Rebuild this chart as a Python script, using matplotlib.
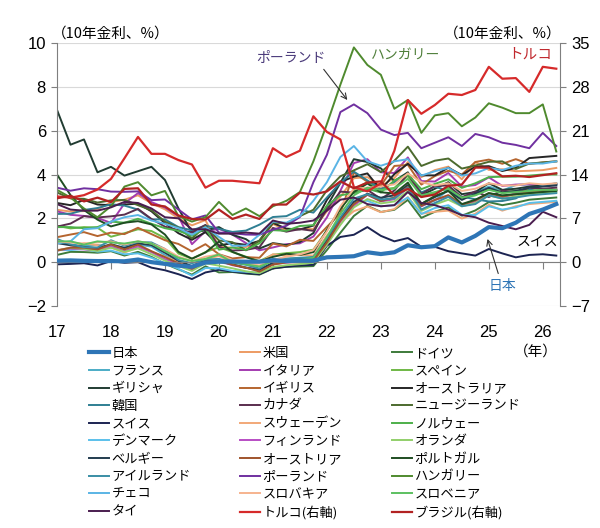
import numpy as np
import matplotlib
matplotlib.use("Agg")
import matplotlib.pyplot as plt

JP_FONT = ['Noto Sans CJK JP', 'DejaVu Sans']
NUM_FONT = ['Liberation Sans', 'DejaVu Sans']
plt.rcParams['font.family'] = JP_FONT

# quarterly 10y yields, Q1 2017 .. Q2 2026 (left axis, %)
years = [17, 18, 19, 20, 21, 22, 23, 24, 25, 26]
jp = [0.07, 0.08, 0.06, 0.05, 0.05, 0.04, 0.12, 0.00, -0.08, -0.16, -0.21, -0.02,
      0.02, 0.03, 0.02, 0.02, 0.09, 0.05, 0.07, 0.07, 0.22, 0.24, 0.27, 0.45,
      0.37, 0.45, 0.77, 0.68, 0.73, 1.13, 0.90, 1.20, 1.60, 1.55, 1.80, 2.20, 2.40, 2.65]
us = [2.39, 2.31, 2.33, 2.40, 2.74, 2.85, 3.05, 2.69, 2.41, 2.00, 1.68, 1.92,
      0.70, 0.66, 0.69, 0.92, 1.74, 1.45, 1.52, 1.51, 2.32, 2.98, 3.83, 3.88,
      3.48, 3.84, 4.57, 3.88, 4.20, 4.36, 3.78, 4.57, 4.21, 4.24, 4.15, 4.17, 4.20, 4.30]
de = [0.33, 0.47, 0.46, 0.43, 0.50, 0.30, 0.47, 0.24, -0.07, -0.33, -0.57, -0.19,
      -0.47, -0.45, -0.52, -0.57, -0.29, -0.21, -0.20, -0.18, 0.55, 1.34, 2.11, 2.57,
      2.29, 2.39, 2.84, 2.02, 2.30, 2.50, 2.12, 2.36, 2.74, 2.60, 2.71, 2.85, 2.90, 2.95]
fr = [0.97, 0.81, 0.74, 0.78, 0.72, 0.66, 0.80, 0.71, 0.32, -0.01, -0.28, 0.12,
      0.00, -0.11, -0.24, -0.34, -0.05, 0.13, 0.16, 0.20, 0.98, 1.92, 2.72, 3.11,
      2.79, 2.93, 3.40, 2.56, 2.81, 3.30, 2.92, 3.19, 3.45, 3.26, 3.52, 3.55, 3.50, 3.55]
it = [2.32, 2.16, 2.11, 2.02, 1.79, 2.68, 3.15, 2.74, 2.49, 2.10, 0.82, 1.41,
      1.52, 1.26, 0.87, 0.54, 0.67, 0.82, 0.86, 1.17, 2.04, 3.26, 4.52, 4.70,
      4.10, 4.07, 4.78, 3.70, 3.68, 4.07, 3.45, 3.52, 3.87, 3.48, 3.54, 3.55, 3.50, 3.55]
es = [1.66, 1.54, 1.60, 1.57, 1.16, 1.32, 1.50, 1.42, 1.10, 0.39, 0.15, 0.46,
      0.68, 0.46, 0.25, 0.05, 0.34, 0.41, 0.46, 0.57, 1.44, 2.42, 3.29, 3.66,
      3.31, 3.39, 3.94, 2.99, 3.16, 3.42, 2.93, 3.06, 3.37, 3.20, 3.26, 3.30, 3.25, 3.30]
gr = [6.95, 5.36, 5.60, 4.10, 4.35, 3.95, 4.15, 4.35, 3.75, 2.45, 1.35, 1.45,
      1.60, 1.25, 1.05, 0.62, 0.87, 0.78, 0.92, 1.33, 2.55, 3.62, 4.70, 4.57,
      4.28, 3.70, 4.10, 3.05, 3.35, 3.65, 3.10, 3.20, 3.60, 3.30, 3.35, 3.45, 3.50, 3.55]
gb = [1.14, 1.26, 1.37, 1.19, 1.35, 1.28, 1.57, 1.28, 1.00, 0.83, 0.49, 0.82,
      0.36, 0.17, 0.23, 0.20, 0.85, 0.72, 1.02, 0.97, 1.61, 2.23, 4.09, 3.67,
      3.49, 4.39, 4.44, 3.54, 3.93, 4.17, 4.00, 4.57, 4.68, 4.49, 4.70, 4.48, 4.55, 4.60]
au = [2.70, 2.60, 2.84, 2.63, 2.60, 2.63, 2.67, 2.32, 1.78, 1.32, 1.02, 1.37,
      0.76, 0.87, 0.79, 0.97, 1.79, 1.53, 1.49, 1.67, 2.84, 3.66, 3.90, 4.05,
      3.30, 4.02, 4.49, 3.96, 3.96, 4.31, 3.97, 4.36, 4.38, 4.16, 4.30, 4.75, 4.80, 4.85]
kr = [2.20, 2.21, 2.38, 2.47, 2.64, 2.58, 2.40, 1.95, 1.95, 1.60, 1.45, 1.67,
      1.52, 1.38, 1.44, 1.71, 2.06, 2.10, 2.39, 2.26, 2.95, 3.62, 4.13, 3.73,
      3.34, 3.64, 4.02, 3.18, 3.44, 3.26, 2.99, 2.87, 2.77, 2.79, 2.91, 3.30, 3.50, 3.60]
ca = [1.62, 1.76, 2.10, 2.04, 2.09, 2.17, 2.43, 1.97, 1.62, 1.46, 1.36, 1.70,
      0.70, 0.53, 0.56, 0.68, 1.56, 1.39, 1.51, 1.43, 2.41, 3.22, 3.17, 3.30,
      2.89, 3.27, 4.03, 3.10, 3.48, 3.50, 2.96, 3.23, 2.97, 3.27, 3.18, 3.40, 3.35, 3.40]
nz = [3.18, 2.91, 2.89, 2.72, 2.82, 2.84, 2.60, 2.37, 1.85, 1.57, 1.08, 1.65,
      0.99, 0.91, 0.54, 0.99, 1.81, 1.77, 2.10, 2.39, 3.28, 3.92, 4.19, 4.47,
      4.11, 4.63, 5.27, 4.39, 4.63, 4.73, 4.27, 4.41, 4.58, 4.60, 4.25, 4.50, 4.55, 4.60]
ch = [-0.10, -0.08, -0.05, -0.15, 0.05, -0.03, 0.00, -0.25, -0.37, -0.55, -0.77, -0.47,
      -0.35, -0.43, -0.50, -0.55, -0.28, -0.21, -0.15, -0.12, 0.75, 1.15, 1.25, 1.60,
      1.20, 0.95, 1.10, 0.70, 0.70, 0.50, 0.40, 0.30, 0.60, 0.40, 0.22, 0.33, 0.36, 0.30]
se = [0.55, 0.65, 0.86, 0.77, 0.67, 0.44, 0.67, 0.47, 0.25, 0.02, -0.22, 0.14,
      0.28, 0.00, -0.03, -0.02, 0.36, 0.30, 0.34, 0.30, 1.22, 1.82, 2.33, 2.54,
      2.28, 2.42, 2.97, 2.21, 2.30, 2.35, 1.99, 2.21, 2.62, 2.35, 2.55, 2.65, 2.70, 2.75]
no = [1.60, 1.60, 1.55, 1.60, 1.85, 1.80, 1.98, 1.75, 1.55, 1.43, 1.20, 1.54,
      0.57, 0.67, 0.56, 0.86, 1.46, 1.43, 1.65, 1.69, 2.58, 3.05, 3.16, 3.35,
      3.18, 3.73, 4.00, 3.33, 3.57, 3.78, 3.39, 3.60, 3.88, 3.90, 3.90, 3.95, 4.00, 4.00]
dk = [0.55, 0.55, 0.60, 0.48, 0.53, 0.36, 0.40, 0.20, -0.05, -0.30, -0.62, -0.27,
      -0.28, -0.40, -0.44, -0.49, -0.05, 0.00, 0.02, 0.04, 0.88, 1.90, 2.75, 2.80,
      2.55, 2.60, 2.95, 2.20, 2.47, 2.60, 2.16, 2.15, 2.55, 2.40, 2.50, 2.70, 2.75, 2.80]
fi = [0.53, 0.62, 0.58, 0.55, 0.71, 0.50, 0.72, 0.46, 0.14, -0.07, -0.37, 0.03,
      0.06, -0.14, -0.26, -0.33, -0.10, -0.02, 0.04, 0.10, 0.80, 1.86, 2.57, 3.08,
      2.77, 2.87, 3.40, 2.55, 2.85, 3.00, 2.60, 2.75, 3.05, 2.95, 3.15, 3.20, 3.25, 3.30]
nl = [0.53, 0.65, 0.61, 0.51, 0.66, 0.47, 0.63, 0.36, 0.07, -0.17, -0.40, -0.05,
      -0.16, -0.28, -0.42, -0.50, -0.22, -0.14, -0.09, -0.03, 0.80, 1.70, 2.50, 2.88,
      2.68, 2.77, 3.24, 2.34, 2.63, 2.85, 2.55, 2.70, 3.05, 2.90, 3.00, 3.10, 3.15, 3.20]
be = [0.87, 0.77, 0.70, 0.63, 0.82, 0.65, 0.86, 0.78, 0.43, 0.06, -0.18, 0.10,
      0.06, -0.10, -0.26, -0.35, -0.03, 0.12, 0.13, 0.14, 0.99, 1.98, 2.75, 3.12,
      2.94, 3.05, 3.52, 2.66, 2.97, 3.26, 2.84, 3.13, 3.39, 3.17, 3.25, 3.40, 3.45, 3.50]
at = [0.53, 0.66, 0.66, 0.58, 0.81, 0.58, 0.80, 0.50, 0.23, -0.05, -0.30, 0.02,
      0.06, -0.12, -0.25, -0.43, -0.11, -0.01, 0.00, 0.06, 0.90, 1.90, 2.65, 3.08,
      2.79, 2.95, 3.43, 2.57, 2.84, 3.06, 2.62, 2.82, 3.15, 3.00, 3.10, 3.20, 3.25, 3.30]
pt = [4.00, 3.06, 2.38, 1.94, 1.63, 1.80, 1.87, 1.72, 1.26, 0.47, 0.16, 0.44,
      0.94, 0.47, 0.23, 0.03, 0.24, 0.38, 0.33, 0.46, 1.47, 2.43, 3.20, 3.59,
      3.19, 3.13, 3.63, 2.66, 3.02, 3.25, 2.65, 2.85, 3.15, 3.05, 3.10, 3.15, 3.20, 3.25]
ie = [1.06, 0.81, 0.68, 0.67, 1.00, 0.75, 0.92, 0.90, 0.60, 0.10, -0.05, 0.12,
      0.15, -0.02, -0.12, -0.29, 0.13, 0.17, 0.20, 0.24, 1.10, 2.05, 2.90, 3.10,
      2.86, 2.91, 3.40, 2.40, 2.70, 2.98, 2.55, 2.65, 3.05, 2.90, 2.95, 3.05, 3.10, 3.15]
pl = [3.40, 3.26, 3.37, 3.33, 3.22, 3.21, 3.23, 2.83, 2.86, 2.40, 1.95, 2.13,
      1.35, 1.32, 1.26, 1.25, 1.48, 1.66, 2.06, 3.65, 4.90, 6.85, 7.20, 6.80,
      6.05, 5.80, 5.90, 5.20, 5.45, 5.70, 5.30, 5.85, 5.70, 5.45, 5.35, 5.20, 5.90, 5.30]
hu = [3.30, 2.95, 2.45, 2.05, 2.55, 3.45, 3.65, 3.05, 3.25, 2.10, 1.85, 2.05,
      2.75, 2.15, 2.45, 2.10, 2.55, 2.80, 3.20, 4.60, 6.30, 8.10, 9.80, 9.00,
      8.55, 7.00, 7.40, 5.90, 6.70, 6.80, 6.20, 6.60, 7.25, 7.05, 6.80, 6.80, 7.20, 5.05]
cz = [0.85, 0.95, 1.50, 1.55, 1.85, 2.05, 2.15, 1.90, 1.75, 1.55, 1.25, 1.60,
      1.15, 0.75, 0.75, 1.25, 1.85, 1.80, 2.10, 2.80, 3.65, 4.80, 5.30, 4.60,
      4.40, 4.60, 4.70, 3.95, 4.15, 4.30, 3.95, 4.05, 4.30, 4.20, 4.40, 4.50, 4.50, 4.60]
sk = [0.95, 0.90, 0.85, 0.90, 0.95, 0.80, 0.95, 0.85, 0.60, 0.25, 0.05, 0.25,
      0.35, 0.10, -0.05, -0.15, 0.10, 0.25, 0.35, 0.55, 1.40, 2.55, 3.35, 3.40,
      3.45, 3.55, 4.05, 3.65, 3.50, 3.60, 3.25, 3.35, 3.60, 3.50, 3.50, 3.60, 3.55, 3.60]
si = [0.95, 0.95, 0.80, 0.95, 0.90, 0.85, 0.95, 0.85, 0.50, 0.20, 0.05, 0.15,
      0.35, 0.00, -0.10, -0.20, 0.05, 0.10, 0.10, 0.20, 1.15, 2.20, 3.05, 3.40,
      3.30, 3.35, 3.80, 3.05, 3.20, 3.35, 2.95, 3.05, 3.30, 3.15, 3.20, 3.25, 3.30, 3.30]
th = [2.65, 2.40, 2.35, 2.35, 2.50, 2.75, 2.70, 2.45, 2.05, 2.00, 1.50, 1.50,
      1.30, 1.30, 1.35, 1.30, 1.90, 1.75, 1.80, 1.90, 2.35, 2.85, 2.95, 2.65,
      2.55, 2.60, 3.20, 2.70, 2.60, 2.40, 2.15, 2.05, 1.80, 1.65, 1.50, 1.70, 2.30, 2.05]
# right axis (%)
tr = [10.5, 10.3, 10.7, 11.6, 13.3, 16.6, 20.0, 17.3, 17.3, 16.3, 15.6, 11.9,
      13.0, 13.0, 12.8, 12.6, 18.2, 16.8, 17.8, 23.3, 20.8, 19.6, 12.0, 11.3,
      12.6, 17.8, 25.9, 23.7, 25.1, 26.9, 26.7, 27.5, 31.2, 29.3, 29.4, 27.2, 31.2, 30.9]
br = [10.2, 10.6, 9.7, 10.3, 9.6, 11.7, 11.8, 9.2, 8.9, 7.45, 6.9, 6.8,
      8.4, 6.9, 7.6, 6.9, 9.2, 9.2, 11.1, 10.8, 11.3, 12.9, 11.8, 12.7,
      12.9, 10.7, 11.7, 10.4, 10.8, 12.2, 12.4, 15.1, 15.1, 13.7, 13.8, 13.6, 13.9, 14.2]

quarters = years[0] + np.arange(len(jp)) / 4

# legend order (row by row, 3 per row)
left_series = [
    ("日本", jp, "#2E75B6"), ("米国", us, "#ED9B63"), ("ドイツ", de, "#3D7A3A"),
    ("フランス", fr, "#4BACC6"), ("イタリア", it, "#A43CB0"), ("スペイン", es, "#6FB845"),
    ("ギリシャ", gr, "#213C32"), ("イギリス", gb, "#B5652F"), ("オーストラリア", au, "#262626"),
    ("韓国", kr, "#2F7F93"), ("カナダ", ca, "#5A2E4E"), ("ニュージーランド", nz, "#4C6A2E"),
    ("スイス", ch, "#1C2452"), ("スウェーデン", se, "#F2A878"), ("ノルウェー", no, "#4DAF4A"),
    ("デンマーク", dk, "#5BC0EB"), ("フィンランド", fi, "#B84DC4"), ("オランダ", nl, "#92CF6A"),
    ("ベルギー", be, "#233C4F"), ("オーストリア", at, "#A0542C"), ("ポルトガル", pt, "#1F4D22"),
    ("アイルランド", ie, "#3A8EA5"), ("ポーランド", pl, "#7030A0"), ("ハンガリー", hu, "#4F8A2E"),
    ("チェコ", cz, "#5AB4E5"), ("スロバキア", sk, "#F6B38E"), ("スロベニア", si, "#5CC060"),
    ("タイ", th, "#4A1D4F"),
]
right_series = [("トルコ(右軸)", tr, "#D62A2A"), ("ブラジル(右軸)", br, "#B22222")]

fig = plt.figure(figsize=(6, 5.28), dpi=100)
ax = fig.add_axes([0.095, 0.4205, 0.838, 0.498])
ax2 = ax.twinx()

handles = []
for name, vals, col in left_series:
    lw = 3.0 if name == "日本" else 1.4
    (ln,) = ax.plot(quarters, vals, color=col, lw=lw, zorder=4 if name == "日本" else 2,
                    label=name)
    handles.append(ln)
for name, vals, col in right_series:
    (ln,) = ax2.plot(quarters, vals, color=col, lw=1.6, label=name)
    handles.append(ln)

ax.set_xlim(17, 26.315)
ax.set_ylim(-2, 10)
ax.set_yticks(range(-2, 11, 2))
ax2.set_ylim(-7, 35)
ax2.set_yticks(range(-7, 36, 7))
ax.yaxis.grid(True, color="#D9D9D9", lw=0.8)
ax.set_axisbelow(True)

axis_col = "#7F7F7F"
for s in ["top", "right"]:
    ax.spines[s].set_visible(False)
for s in ["top", "bottom", "left"]:
    ax2.spines[s].set_visible(False)
ax.spines["left"].set_color(axis_col)
ax2.spines["right"].set_color(axis_col)
ax.spines["bottom"].set_position(("data", 0))
ax.spines["bottom"].set_color(axis_col)
ax.set_xticks(years)
ax.tick_params(axis="x", direction="out", length=5, color=axis_col, labelbottom=False)
ax.tick_params(axis="y", direction="out", length=4, color=axis_col, labelsize=12, pad=4)
ax2.tick_params(axis="y", direction="out", length=4, color=axis_col, labelsize=12, pad=4)
for lab in ax.get_yticklabels() + ax2.get_yticklabels():
    lab.set_family(NUM_FONT)

sec = ax.secondary_xaxis("bottom")
sec.set_xticks(years, [str(y) for y in years])
sec.tick_params(length=0, labelsize=12, pad=14)
sec.spines["bottom"].set_visible(False)
for lab in sec.get_xticklabels():
    lab.set_family(NUM_FONT)

fig.text(0.087, 0.937, "（10年金利、%）", fontsize=10.5, ha="left", va="center")
fig.text(0.935, 0.937, "（10年金利、%）", fontsize=10.5, ha="right", va="center")
fig.text(0.93, 0.335, "（年）", fontsize=10.5, ha="right", va="center")

# annotations
ax.text(21.33, 9.3, "ポーランド", color="#4B3B7B", fontsize=10, ha="center", va="center")
ax.annotate("", xy=(22.41, 7.3), xytext=(21.91, 8.9),
            arrowprops=dict(arrowstyle="->", color="#333333", lw=0.8))
ax.text(23.46, 9.45, "ハンガリー", color="#4F7F3A", fontsize=10, ha="center", va="center")
ax.text(25.76, 9.45, "トルコ", color="#C0282D", fontsize=10.5, ha="center", va="center")
ax.text(25.9, 0.9, "スイス", color="black", fontsize=10, ha="center", va="center")
ax.text(25.26, -1.1, "日本", color="#2E75B6", fontsize=10, ha="center", va="center")
ax.annotate("", xy=(24.96, 1.18), xytext=(25.19, -0.64),
            arrowprops=dict(arrowstyle="->", color="#333333", lw=0.8))

# legend in three columns
col_x = [89, 240, 392]
for c in range(3):
    fig.legend(handles=handles[c::3], loc="upper left",
               bbox_to_anchor=(col_x[c] / 600, 1 - 347 / 528),
               frameon=False, fontsize=9.5, handlelength=1.55, handletextpad=0.15,
               labelspacing=0.35, borderpad=0, borderaxespad=0)

fig.savefig("out.png", dpi=100)
